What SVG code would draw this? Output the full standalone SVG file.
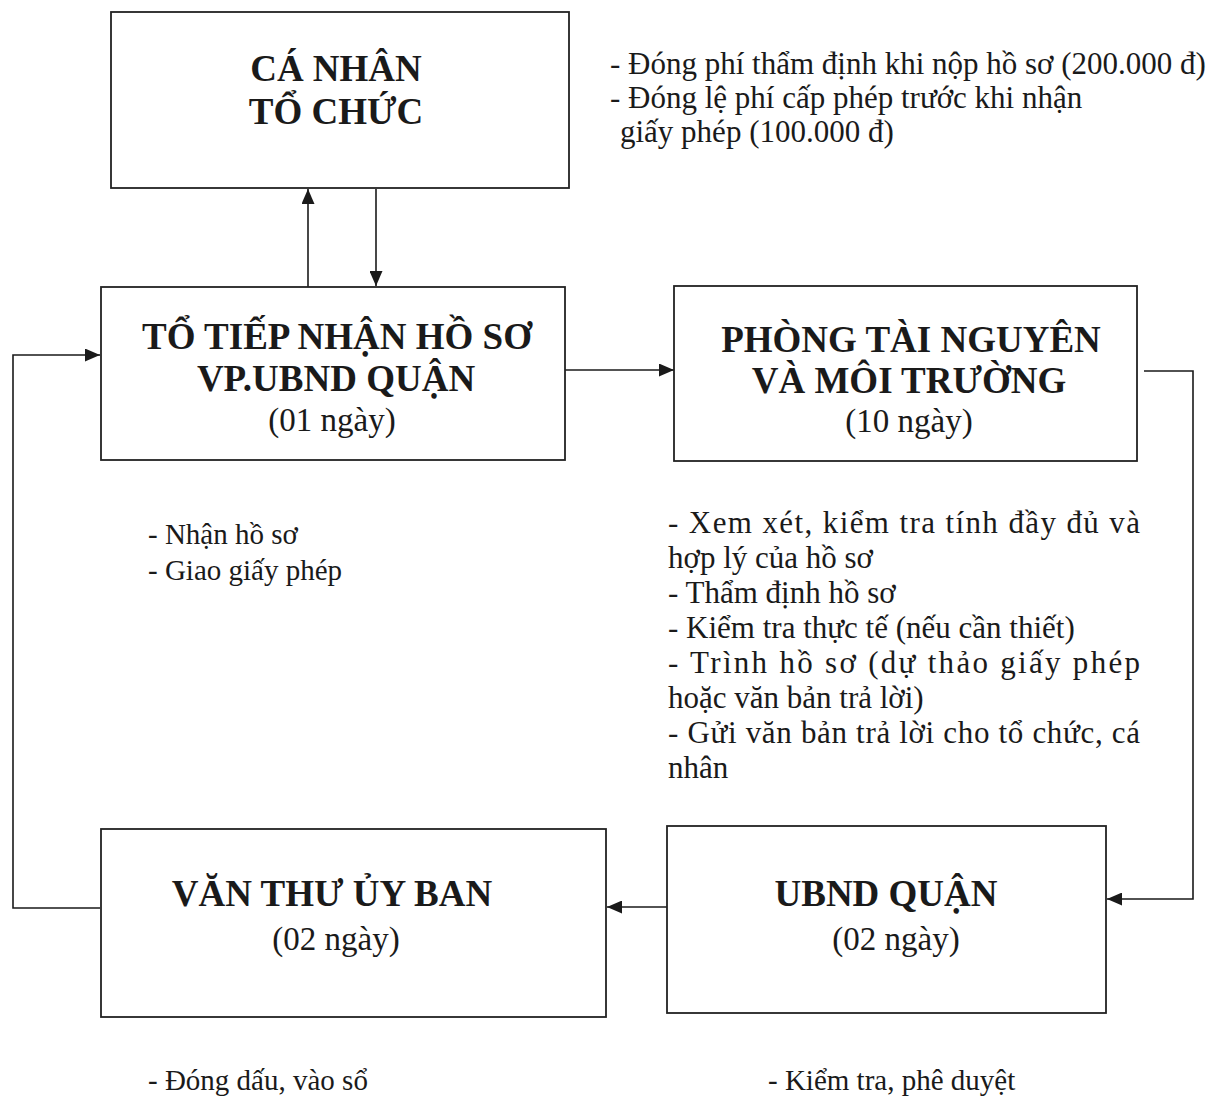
<svg xmlns="http://www.w3.org/2000/svg" width="1221" height="1097" viewBox="0 0 1221 1097">
<defs>
<marker id="ah" viewBox="0 0 15 13" refX="15" refY="6.5" markerWidth="15" markerHeight="13" markerUnits="userSpaceOnUse" orient="auto">
<path d="M0,0 L15,6.5 L0,13 z" fill="#1a1a1a"/>
</marker>
<style>
.box{fill:#fff;stroke:#222;stroke-width:1.8}
.t{font-family:"Liberation Serif","Times New Roman",serif;fill:#1a1a1a;text-anchor:middle}
.b{font-weight:bold;font-size:37px}
.r{font-size:33px}
.n{font-family:"Liberation Serif","Times New Roman",serif;fill:#1a1a1a;font-size:29px}
.n2{font-size:31px}
.c{fill:none;stroke:#1a1a1a;stroke-width:1.6}
</style>
</defs>
<rect width="1221" height="1097" fill="#fff"/>
<g id="connectors">
<line class="c" x1="308" y1="287" x2="308" y2="189" marker-end="url(#ah)"/>
<line class="c" x1="376" y1="189" x2="376" y2="286" marker-end="url(#ah)"/>
<line class="c" x1="565" y1="370" x2="674" y2="370" marker-end="url(#ah)"/>
<polyline class="c" points="1144,371 1193,371 1193,899 1107,899" marker-end="url(#ah)"/>
<line class="c" x1="667" y1="907" x2="607" y2="907" marker-end="url(#ah)"/>
<polyline class="c" points="100,908 13,908 13,355 100,355" marker-end="url(#ah)"/>
</g>
<g id="ca-nhan">
<rect class="box" x="111" y="12" width="458" height="176"/>
<text class="t b" x="336" y="81">CÁ NHÂN</text>
<text class="t b" x="336" y="124">TỔ CHỨC</text>
</g>
<g id="to-tiep-nhan">
<rect class="box" x="101" y="287" width="464" height="173"/>
<text class="t b" x="337" y="349">TỔ TIẾP NHẬN HỒ SƠ</text>
<text class="t b" x="336" y="391">VP.UBND QUẬN</text>
<text class="t r" x="332" y="431">(01 ngày)</text>
</g>
<g id="phong-tn">
<rect class="box" x="674" y="286" width="463" height="175"/>
<text class="t b" x="911" y="352">PHÒNG TÀI NGUYÊN</text>
<text class="t b" x="909" y="393">VÀ MÔI TRƯỜNG</text>
<text class="t r" x="909" y="432">(10 ngày)</text>
</g>
<g id="van-thu">
<rect class="box" x="101" y="829" width="505" height="188"/>
<text class="t b" x="332" y="906">VĂN THƯ ỦY BAN</text>
<text class="t r" x="336" y="950">(02 ngày)</text>
</g>
<g id="ubnd">
<rect class="box" x="667" y="826" width="439" height="187"/>
<text class="t b" x="886" y="906">UBND QUẬN</text>
<text class="t r" x="896" y="950">(02 ngày)</text>
</g>
<g id="notes">
<text class="n n2" x="610" y="74">- Đóng phí thẩm định khi nộp hồ sơ (200.000 đ)</text>
<text class="n n2" x="610" y="108">- Đóng lệ phí cấp phép trước khi nhận</text>
<text class="n n2" x="620" y="142">giấy phép (100.000 đ)</text>
<text class="n" x="148" y="544">- Nhận hồ sơ</text>
<text class="n" x="148" y="580">- Giao giấy phép</text>
<text class="n n2" x="668" y="533" textLength="472" lengthAdjust="spacing">- Xem xét, kiểm tra tính đầy đủ và</text>
<text class="n n2" x="668" y="568">hợp lý của hồ sơ</text>
<text class="n n2" x="668" y="603">- Thẩm định hồ sơ</text>
<text class="n n2" x="668" y="638">- Kiểm tra thực tế (nếu cần thiết)</text>
<text class="n n2" x="668" y="673" textLength="472" lengthAdjust="spacing">- Trình hồ sơ (dự thảo giấy phép</text>
<text class="n n2" x="668" y="708">hoặc văn bản trả lời)</text>
<text class="n n2" x="668" y="743" textLength="472" lengthAdjust="spacing">- Gửi văn bản trả lời cho tổ chức, cá</text>
<text class="n n2" x="668" y="778">nhân</text>
<text class="n" x="148" y="1090">- Đóng dấu, vào sổ</text>
<text class="n" x="768" y="1090">- Kiểm tra, phê duyệt</text>
</g>
</svg>
